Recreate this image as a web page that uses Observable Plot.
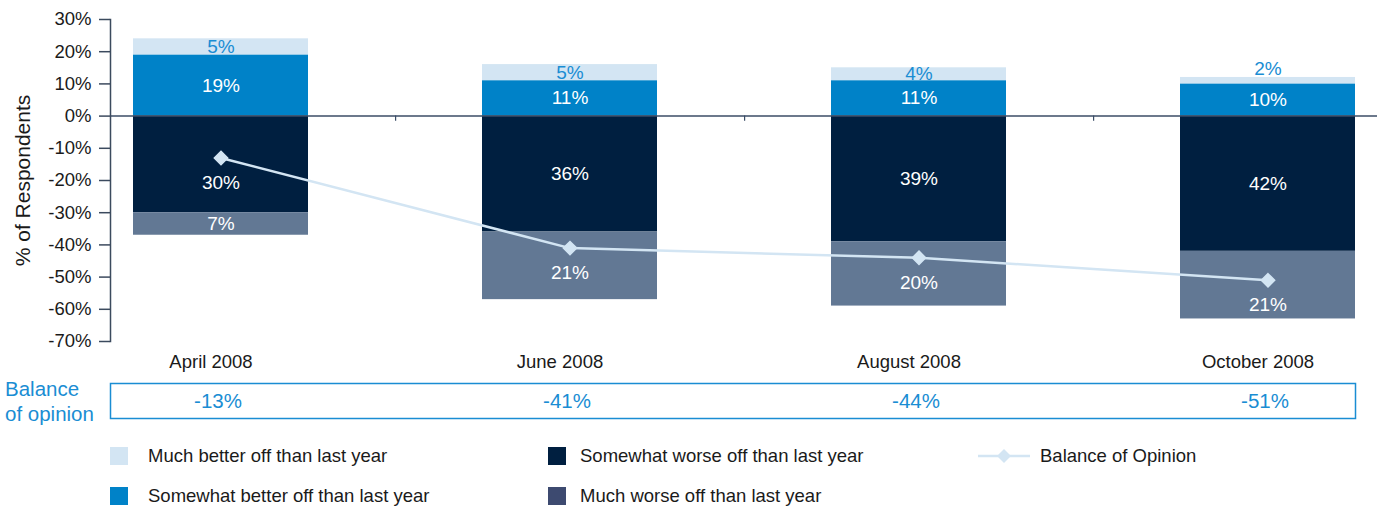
<!DOCTYPE html>
<html>
<head>
<meta charset="utf-8">
<script src="https://cdn.jsdelivr.net/npm/d3@7"></script>
<script src="https://cdn.jsdelivr.net/npm/@observablehq/plot@0.6"></script>
<style>
  html, body { margin: 0; padding: 0; background: #fff; }
  body { font-family: "Liberation Sans", Arial, Helvetica, sans-serif; }
  #wrap { position: relative; width: 1381px; height: 506px; overflow: hidden; }
  #chart { position: absolute; left: 0; top: 0; }
  #bal { position: absolute; left: 0; top: 380px; }
  #balLabel { position: absolute; left: 5px; top: 376px; color: #1a8dd3; font-size: 20.5px; line-height: 25px; }
  .leg { position: absolute; font-size: 18.5px; color: #1a1a1a; display: flex; align-items: center; white-space: nowrap; }
  .sw { width: 18px; height: 18px; display: inline-block; }
</style>
</head>
<body>
<div id="wrap">
  <div id="chart"></div>
  <div id="balLabel">Balance<br>of opinion</div>
  <div id="bal"></div>
  <div id="legend"></div>
</div>
<script>
const months = ["April 2008", "June 2008", "August 2008", "October 2008"];
const series = [
  "Much better off than last year",
  "Somewhat better off than last year",
  "Somewhat worse off than last year",
  "Much worse off than last year"
];
const muchBetter = [5, 5, 4, 2];
const somewhatBetter = [19, 11, 11, 10];
const somewhatWorse = [30, 36, 39, 42];
const muchWorse = [7, 21, 20, 21];
const balance = [-13, -41, -44, -51];
const yTicks = [-70, -60, -50, -40, -30, -20, -10, 0, 10, 20, 30];

const barColors = ["#d3e5f3", "#0082c8", "#001f40", "#627894"];
const legendColors = ["#d3e5f3", "#0082c8", "#001f40", "#3d4a70"];
const lineColor = "#d3e5f3";
const blueText = "#1a8dd3";

// Build stacked rows
const rows = [];
months.forEach((m, i) => {
  const sb = somewhatBetter[i], mb = muchBetter[i], sw = somewhatWorse[i], mw = muchWorse[i];
  rows.push({month: m, series: series[1], value: sb, y1: 0, y2: sb});
  rows.push({month: m, series: series[0], value: mb, y1: sb, y2: sb + mb});
  rows.push({month: m, series: series[2], value: sw, y1: 0, y2: -sw});
  rows.push({month: m, series: series[3], value: mw, y1: -sw, y2: -sw - mw});
});
rows.forEach(r => {
  const i = months.indexOf(r.month);
  const lo = Math.min(r.y1, r.y2), hi = Math.max(r.y1, r.y2);
  r.mid = (r.y1 + r.y2) / 2;
  r.label = r.value + "%";
  const b = balance[i];
  if (r.series === series[0] && r.value < 3) { r.place = "above"; r.ly = hi; }
  else if (r.y2 < 0 && b <= hi && b >= lo && Math.abs(b - r.mid) < 8) { r.place = "shift"; r.ly = b; }
  else { r.place = "mid"; r.ly = r.mid; }
});
const balRows = months.map((m, i) => ({month: m, v: balance[i]}));

const xScale = {type: "band", domain: months, paddingInner: 0.5, paddingOuter: 0.065};

const chart = Plot.plot({
  width: 1381,
  height: 375,
  marginLeft: 110,
  marginRight: 4,
  marginTop: 19,
  marginBottom: 34,
  style: {fontFamily: "'Liberation Sans', Arial, Helvetica, sans-serif", fontSize: "18px", color: "#1a1a1a", background: "#fff"},
  x: xScale,
  y: {domain: [-70, 30]},
  color: {domain: series, range: barColors},
  marks: [
    Plot.rectY(rows, {x: "month", y1: "y1", y2: "y2", fill: "series"}),
    Plot.ruleY([0], {stroke: "#3b4d66", strokeWidth: 1.5}),
    Plot.ruleX(months.slice(0, 3), {x: d => d, y1: 0, y2: -1.6, dx: 174.6, stroke: "#3b4d66", strokeWidth: 1.2}),
    Plot.frame({anchor: "left", stroke: "#3b4a5e", strokeWidth: 1.5}),
    Plot.axisY({ticks: yTicks, tickFormat: d => d + "%", tickSize: 11, tickPadding: 8, stroke: "#3b4a5e", strokeWidth: 1.5,
      label: "% of Respondents", labelAnchor: "center", labelArrow: "none", labelOffset: 95, fontSize: 18.5}),
    Plot.axisX({tickSize: 0, tickPadding: 13, dx: -10, label: null, fontSize: 18.5}),
    Plot.text(rows.filter(r => r.place === "mid"), {x: "month", y: "ly", text: "label",
      fill: d => d.series === series[0] ? blueText : "#ffffff", fontSize: 19}),
    Plot.text(rows.filter(r => r.place === "above"), {x: "month", y: "ly", text: "label", dy: -9,
      fill: blueText, fontSize: 19}),
    Plot.line(balRows, {x: "month", y: "v", stroke: lineColor, strokeWidth: 2.5}),
    Plot.dot(balRows, {x: "month", y: "v", symbol: "diamond2", r: 6, fill: lineColor, stroke: lineColor}),
    Plot.text(rows.filter(r => r.place === "shift"), {x: "month", y: "ly", text: "label", dy: 25,
      fill: "#ffffff", fontSize: 19})
  ]
});
// enlarge the y-axis title to match reference
chart.querySelectorAll("text").forEach(t => {
  if (t.textContent === "% of Respondents") t.setAttribute("font-size", "21");
});
document.getElementById("chart").appendChild(chart);

const balPlot = Plot.plot({
  width: 1381,
  height: 42,
  marginLeft: 110,
  marginRight: 26,
  marginTop: 3,
  marginBottom: 4,
  style: {fontFamily: "'Liberation Sans', Arial, Helvetica, sans-serif", fontSize: "20.5px", background: "transparent"},
  x: {...xScale, range: [110, 1377], axis: null},
  marks: [
    Plot.frame({stroke: blueText, strokeWidth: 1.5}),
    Plot.text(balRows, {x: "month", text: d => d.v + "%", frameAnchor: "middle", dx: -3, fill: blueText, fontSize: 20.5})
  ]
});
document.getElementById("bal").appendChild(balPlot);

// Legend
const legend = document.getElementById("legend");
const items = [
  {label: series[0], color: legendColors[0], left: 110, top: 456},
  {label: series[1], color: legendColors[1], left: 110, top: 496},
  {label: series[2], color: legendColors[2], left: 548, top: 456},
  {label: series[3], color: legendColors[3], left: 548, top: 496}
];
items.forEach(it => {
  const d = document.createElement("div");
  d.className = "leg";
  d.style.left = it.left + "px";
  d.style.top = (it.top - 11) + "px";
  d.style.height = "22px";
  d.innerHTML = `<span class="sw" style="background:${it.color}"></span><span style="margin-left:${it.left === 110 ? 20 : 14}px">${it.label}</span>`;
  legend.appendChild(d);
});
const lineItem = document.createElement("div");
lineItem.className = "leg";
lineItem.style.left = "978px";
lineItem.style.top = "445px";
lineItem.style.height = "22px";
lineItem.innerHTML = `<svg width="54" height="22"><line x1="0" y1="11" x2="52" y2="11" stroke="${lineColor}" stroke-width="2.5"/><path d="M26,4 L33,11 L26,18 L19,11 Z" fill="${lineColor}"/></svg><span style="margin-left:8px">Balance of Opinion</span>`;
legend.appendChild(lineItem);
</script>
</body>
</html>
